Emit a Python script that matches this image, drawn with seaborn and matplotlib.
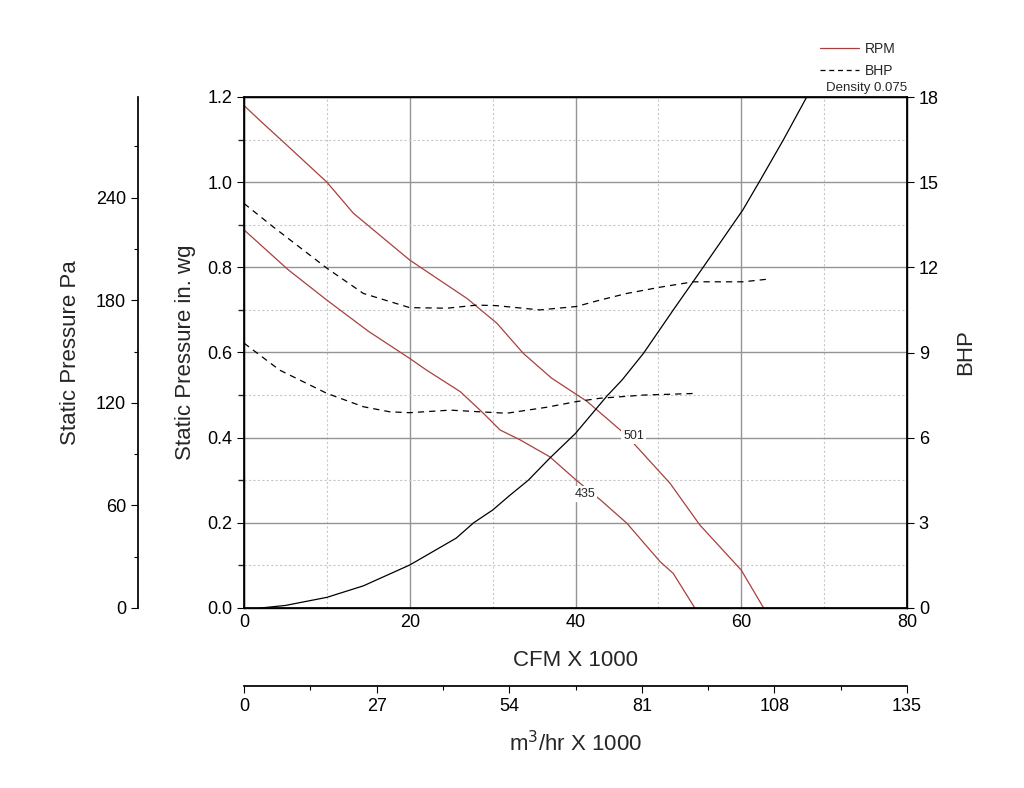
import numpy as np
import pandas as pd
import seaborn as sns
import matplotlib.pyplot as plt
from matplotlib.lines import Line2D
from matplotlib.ticker import MultipleLocator, FormatStrFormatter

sns.set_theme(style="white")
plt.rcParams['font.family'] = ['Liberation Sans', 'DejaVu Sans']

# RPM curves: CFM x 1000 vs static pressure (in. wg)
cfm_501 = [0, 2.3, 5, 10, 13.2, 20, 26.9, 30.5, 33.7, 37.1, 41.4, 45.4, 47.0, 51.4, 55.0, 60.0, 62.7]
sp_501 = [1.18, 1.138, 1.09, 1.0, 0.927, 0.817, 0.727, 0.669, 0.598, 0.54, 0.485, 0.418, 0.387, 0.293, 0.195, 0.089, 0.0]

cfm_435 = [0, 5.35, 10, 15, 20, 22, 26.1, 28.9, 30.9, 33.3, 36.9, 40.1, 43, 46.2, 50.2, 51.8, 54.4]
sp_435 = [0.888, 0.794, 0.723, 0.65, 0.586, 0.559, 0.508, 0.457, 0.418, 0.395, 0.355, 0.30, 0.254, 0.199, 0.109, 0.081, 0.0]

# system curve
cfm_sys = [2, 5, 10, 14.4, 20, 25.6, 27.7, 30, 32.1, 34.3, 36.9, 40, 43.8, 45.6, 48.2, 51.8, 55.4, 60.2, 62.3, 65.1, 67.9]
sp_sys = [0.0, 0.006, 0.025, 0.052, 0.101, 0.164, 0.2, 0.23, 0.265, 0.30, 0.352, 0.41, 0.498, 0.535, 0.598, 0.70, 0.80, 0.935, 1.005, 1.10, 1.20]

# BHP curves
cfm_bhp501 = [0, 3.5, 10, 14.4, 20, 24.5, 28.1, 30.5, 35.7, 40.1, 43, 46.2, 50.2, 54.2, 60.2, 63.1]
bhp_501 = [14.25, 13.43, 11.97, 11.08, 10.58, 10.56, 10.67, 10.65, 10.50, 10.62, 10.85, 11.08, 11.30, 11.49, 11.49, 11.58]

cfm_bhp435 = [0, 4.3, 10, 14.4, 17.6, 20, 24.9, 28.5, 31.7, 36.5, 40.1, 43, 48.2, 54.6]
bhp_435 = [9.33, 8.38, 7.56, 7.09, 6.91, 6.88, 6.97, 6.91, 6.86, 7.07, 7.27, 7.39, 7.50, 7.56]

red = "#a8403f"

fig = plt.figure(figsize=(10.24, 7.88), dpi=100)
ax = fig.add_axes([244/1024, 1-608/788, (907-244)/1024, (608-97)/788])

ax.xaxis.set_major_locator(MultipleLocator(20))
ax.xaxis.set_minor_locator(MultipleLocator(10))
ax.yaxis.set_major_locator(MultipleLocator(0.2))
ax.yaxis.set_minor_locator(MultipleLocator(0.1))
ax.grid(which="major", color="#949494", lw=1.0, ls="-")
ax.grid(which="minor", color="#c8c8c8", lw=0.8, ls=(0, (2, 2)))
ax.set_axisbelow(True)

for c, s in [(cfm_501, sp_501), (cfm_435, sp_435)]:
    df = pd.DataFrame({"cfm": c, "sp": s})
    sns.lineplot(data=df, x="cfm", y="sp", ax=ax, color=red, lw=0.9, sort=False, estimator=None)
sys_df = pd.DataFrame({"cfm": cfm_sys, "sp": sp_sys})
sns.lineplot(data=sys_df, x="cfm", y="sp", ax=ax, color="black", lw=0.9, sort=False, estimator=None)

ax.text(47.0, 0.404, "501", fontsize=9, ha="center", va="center",
        bbox=dict(facecolor="white", edgecolor="none", pad=1.5))
ax.text(41.1, 0.268, "435", fontsize=9, ha="center", va="center",
        bbox=dict(facecolor="white", edgecolor="none", pad=1.5))

ax.set_xlim(0, 80)
ax.set_ylim(0, 1.2)
ax.yaxis.set_major_formatter(FormatStrFormatter('%.1f'))
ax.tick_params(axis="both", which="major", labelsize=13, direction="out", length=5, width=0.8, colors="black")
ax.tick_params(axis="x", which="major", length=0, pad=4)
ax.set_xlabel("CFM X 1000", fontsize=16, labelpad=14)
ax.set_ylabel("Static Pressure in. wg", fontsize=16, labelpad=8)
for sp in ax.spines.values():
    sp.set_color("black")
    sp.set_linewidth(1.0)

# BHP on the right
ax2 = ax.twinx()
for c, b in [(cfm_bhp501, bhp_501), (cfm_bhp435, bhp_435)]:
    df = pd.DataFrame({"cfm": c, "bhp": b})
    sns.lineplot(data=df, x="cfm", y="bhp", ax=ax2, color="black", lw=0.9, sort=False,
                 estimator=None, linestyle=(0, (5, 4)))
ax2.set_ylim(0, 18)
ax2.yaxis.set_major_locator(MultipleLocator(3))
ax2.tick_params(axis="y", labelsize=13, direction="out", length=5, width=0.8, colors="black")
ax2.set_ylabel("BHP", fontsize=16, labelpad=12)
ax2.grid(False)
for sp in ax2.spines.values():
    sp.set_color("black")

# Pa axis on the far left
pa = ax.secondary_yaxis(-106/663, functions=(lambda v: v*249.09, lambda v: v/249.09))
pa.set_yticks([0, 60, 120, 180, 240])
pa.yaxis.set_minor_locator(MultipleLocator(30))
pa.tick_params(axis="y", which="major", labelsize=13, direction="out", length=5, width=0.8, colors="black")
pa.tick_params(axis="y", which="minor", direction="out", length=3, width=0.8, colors="black")
pa.set_ylabel("Static Pressure Pa", fontsize=16, labelpad=11)
pa.spines["left"].set_color("black")

# m3/hr axis below
m3 = ax.secondary_xaxis(-(686-608)/511, functions=(lambda v: v*135/80, lambda v: v*80/135))
m3.set_xticks([0, 27, 54, 81, 108, 135])
m3.xaxis.set_minor_locator(MultipleLocator(13.5))
m3.tick_params(axis="x", which="major", labelsize=13, direction="out", length=5, width=0.8, colors="black")
m3.tick_params(axis="x", which="minor", direction="out", length=3, width=0.8, colors="black")
m3.set_xlabel("m$^3$/hr X 1000", fontsize=16, labelpad=12)
m3.spines["bottom"].set_color("black")

handles = [Line2D([], [], color=red, lw=0.9), Line2D([], [], color="black", lw=0.9, ls=(0, (4, 3)))]
fig.legend(handles, ["RPM", "BHP"], loc="upper left", bbox_to_anchor=(820/1024, 1-42/788),
           frameon=False, fontsize=10, handlelength=2.8, handletextpad=0.4, labelspacing=0.55,
           borderpad=0, borderaxespad=0)
fig.text(907/1024, 1-88/788, "Density 0.075", fontsize=9.5, ha="right", va="center")

fig.savefig("out.png", dpi=100)
